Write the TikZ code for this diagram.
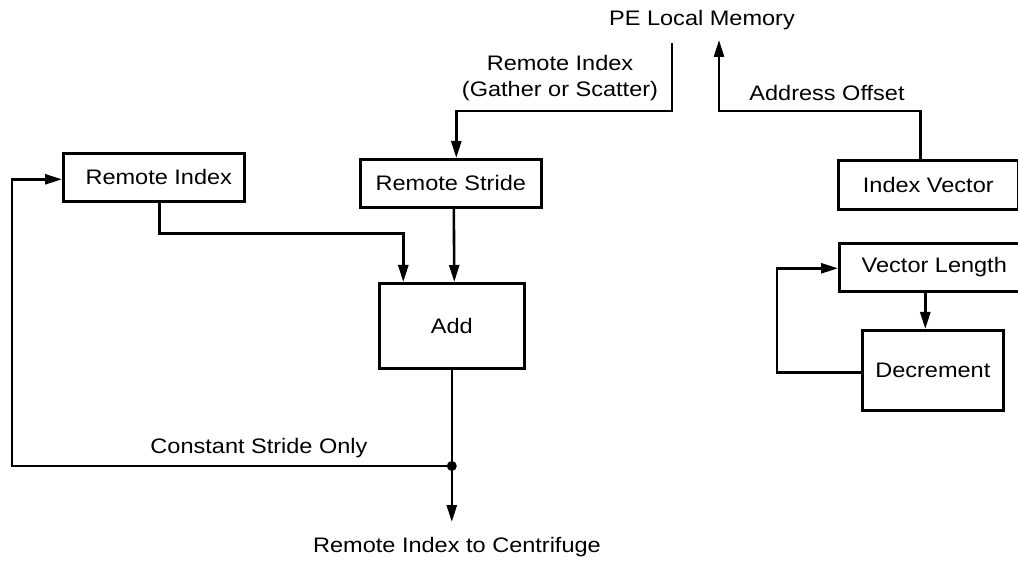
\documentclass[tikz,border=0pt]{standalone}
\usepackage{fontspec}
\setmainfont{Liberation Sans}[FakeStretch=1.12]
\usetikzlibrary{arrows.meta}
\begin{document}
\begin{tikzpicture}[x=1pt,y=-1pt,
  every node/.style={font=\fontsize{21}{26}\selectfont, inner sep=0pt},
  block/.style={draw, line width=2.6pt, anchor=north west},
  wire/.style={line width=2.6pt},
  feed/.style={wire, -{Triangle[length=17pt,width=10pt]}},
  caption/.style={align=center}]
\useasboundingbox (0,0) rectangle (1018,561);
\begin{scope}
\clip (0,0) rectangle (1018,561);

% registers and functional units
\node[block, minimum width=181pt, minimum height=48pt] (ri)  at (62,152)  {\hspace*{10pt}Remote Index};
\node[block, minimum width=181pt, minimum height=48pt] (rs)  at (359,158) {Remote Stride};
\node[block, minimum width=145pt, minimum height=85pt] (add) at (378,282) {Add};
\node[block, minimum width=180pt, minimum height=49pt] (iv)  at (837,159) {Index Vector};
\node[block, minimum width=190pt, minimum height=48pt] (vl)  at (838,242) {Vector Length};
\node[block, minimum width=141pt, minimum height=80pt] (dec) at (861,329) {Decrement};

% free labels
\node (pe)  at (702,20)  {PE Local Memory};
\node[caption] (gs) at (560,78) {Remote Index\\(Gather or Scatter)};
\node (ao)  at (827,93)  {Address Offset};
\node (cso) at (259,448) {Constant Stride Only};
\node (ric) at (457,547) {Remote Index to Centrifuge};

% connector end points
\coordinate (peout) at (672,43);
\coordinate (pein)  at (719,40);
\coordinate (jn)    at (add.south |- 0,466);
\coordinate (out)   at (add.south |- 0,522);
\coordinate (lc)    at (12,466);

% memory interface
\draw[feed] (peout) -- ++(0,68) -| ([xshift=5.5pt]rs.north);
\draw[feed] ([xshift=-8pt]iv.north) -- ++(0,-48) -| (pein);

% address adder
\draw[feed] ([xshift=5.5pt]ri.south) -- ++(0,31) -| ([xshift=-48.5pt]add.north);
\draw[feed] ([xshift=3pt]rs.south) -- ([xshift=2.5pt]add.north);
\draw[wire] (add.south) -- (jn);
\draw[feed] (jn) -- (out);
\draw[feed] (jn) -- (lc) |- ([yshift=-2pt]ri.west);
\fill (jn) circle (5pt);

% vector length counter
\draw[feed] ([xshift=-9pt]vl.south) -- ([xshift=-9pt]vl.south |- dec.north);
\draw[feed] ([yshift=-2pt]dec.west) -- ++(-84,0) |- ([yshift=-1pt]vl.west);
\end{scope}
\end{tikzpicture}
\end{document}
